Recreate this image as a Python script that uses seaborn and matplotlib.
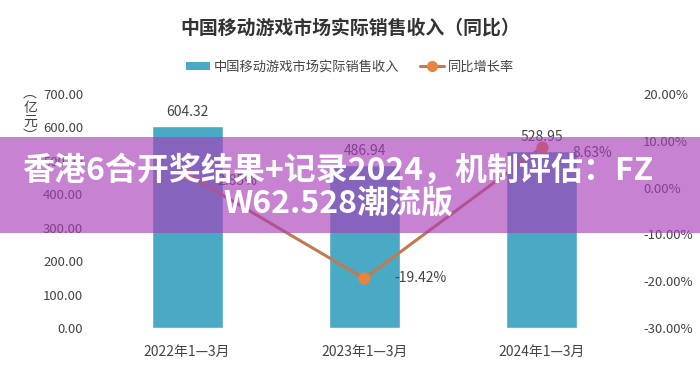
import numpy as np
import pandas as pd
import matplotlib.pyplot as plt
import seaborn as sns
from matplotlib.patches import Rectangle, Patch
from matplotlib.lines import Line2D

# --- Data ---
periods = ['2022年1—3月', '2023年1—3月', '2024年1—3月']
revenue = [604.32, 486.94, 528.95]          # 亿元
growth = [2.85, -19.42, 8.63]               # %
revenue_ticks = [0, 100, 200, 300, 400, 500, 600, 700]
growth_ticks = [-30, -20, -10, 0, 10, 20]

BAR_COLOR = '#4aa9c5'
LINE_COLOR = '#c47a50'
MARKER_COLOR = '#e9843c'
TEXT_COLOR = '#444444'

sns.set_theme(style='white')
plt.rcParams['font.family'] = ['Noto Sans CJK SC', 'DejaVu Sans']

df = pd.DataFrame({'period': periods, 'revenue': revenue, 'growth': growth})

fig = plt.figure(figsize=(7, 3.7), dpi=100)
ax = fig.add_axes([0.1407, 0.1135, 0.76, 0.6325])

sns.barplot(data=df, x='period', y='revenue', color=BAR_COLOR, width=0.4,
            saturation=1, ax=ax)
ax.set_ylim(0, 700)
ax.set_xlim(-0.5, 2.5)
ax.set_yticks(revenue_ticks)
ax.set_yticklabels([f'{v:.2f}' for v in revenue_ticks], fontsize=9.5, color=TEXT_COLOR)
ax.tick_params(axis='x', labelsize=10, labelcolor=TEXT_COLOR, pad=12, length=0)
ax.tick_params(axis='y', length=0, pad=11)
ax.set_xlabel('')
ax.set_ylabel('')
sns.despine(ax=ax, left=True, bottom=True)

for i, v in enumerate(revenue):
    ax.text(i, v + 22, f'{v:.2f}', ha='center', va='bottom', fontsize=10, color=TEXT_COLOR)

# vertical unit label
fig.text(0.043, 0.69, '︵\n亿\n元\n︶', ha='center', va='center', fontsize=10,
         color=TEXT_COLOR, linespacing=1.0)

# growth line on secondary axis
ax2 = ax.twinx()
x_pos = np.arange(len(periods))
sns.lineplot(x=x_pos, y=growth, ax=ax2, color=LINE_COLOR, linewidth=2.2,
             marker='o', markersize=8, markerfacecolor=MARKER_COLOR,
             markeredgecolor=MARKER_COLOR)
ax2.set_ylim(-30, 20)
ax2.set_yticks(growth_ticks)
ax2.set_yticklabels([f'{v:.2f}%' for v in growth_ticks], fontsize=9.5, color=TEXT_COLOR)
ax2.tick_params(axis='y', length=0, pad=9)
ax2.set_ylabel('')
sns.despine(ax=ax2, left=True, right=True, bottom=True)

label_offsets = [(0.17, -1.5), (0.17, 0), (0.17, -1.2)]
for i, v in enumerate(growth):
    dx, dy = label_offsets[i]
    ax2.text(i + dx, v + dy, f'{v:.2f}%', ha='left', va='center', fontsize=10,
             color=TEXT_COLOR)

# title and legend
fig.text(0.5, 0.924, '中国移动游戏市场实际销售收入（同比）', ha='center', va='center',
         fontsize=13.6, fontweight='bold', color='#333333')
handles = [Patch(facecolor=BAR_COLOR, edgecolor='none'),
           Line2D([0], [0], color=LINE_COLOR, linewidth=2.2, marker='o',
                  markersize=7, markerfacecolor=MARKER_COLOR, markeredgecolor=MARKER_COLOR)]
fig.legend(handles, ['中国移动游戏市场实际销售收入', '同比增长率'], loc='center',
           bbox_to_anchor=(0.5, 0.818), ncol=2, frameon=False, fontsize=9.5,
           labelcolor=TEXT_COLOR, handlelength=1.8, handleheight=0.6,
           handletextpad=0.3, columnspacing=1.6)

# overlay banner
fig.add_artist(Rectangle((0, 0.3703), 1, 0.2594, transform=fig.transFigure,
                         facecolor='#a93cb9', alpha=0.64, edgecolor='none', zorder=10))
fig.text(0.483, 0.4935, '香港6合开奖结果+记录2024，机制评估：FZ\nW62.528潮流版',
         ha='center', va='center', fontsize=23, fontweight='bold', color='white',
         linespacing=1.05, zorder=11)

fig.savefig('out.png', dpi=100)
